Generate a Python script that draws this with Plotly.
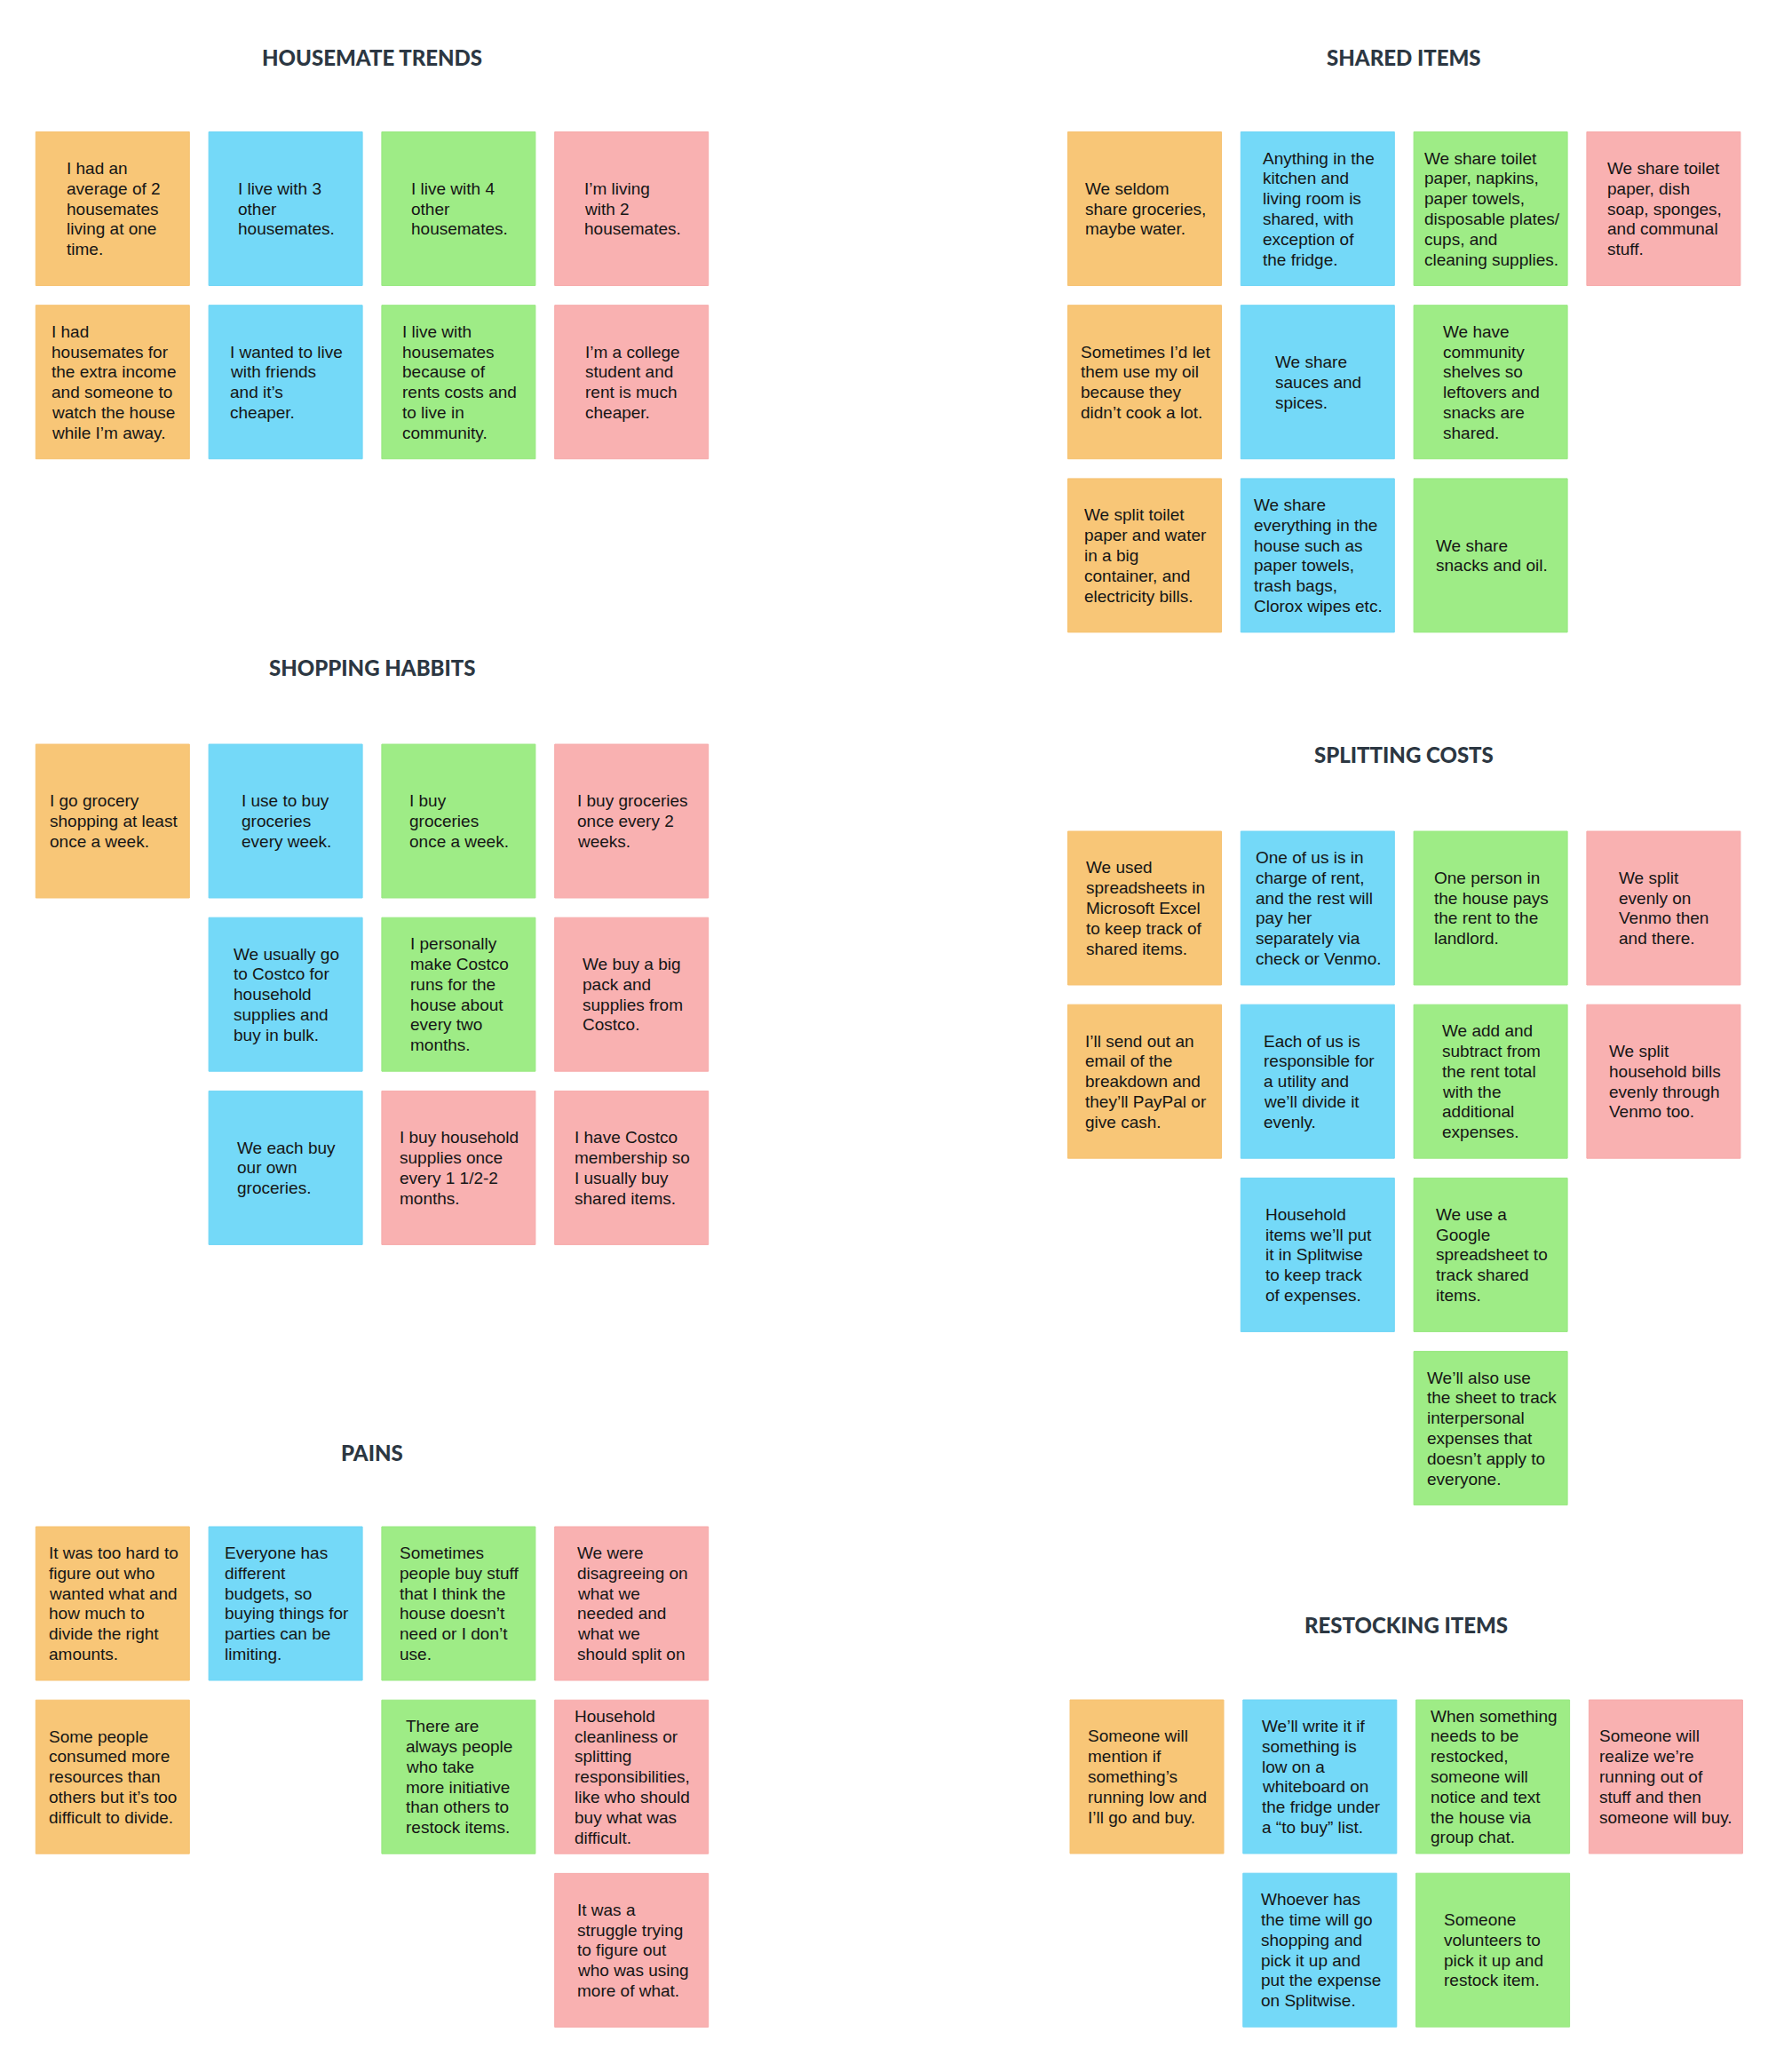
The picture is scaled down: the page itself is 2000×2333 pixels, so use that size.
import plotly.graph_objects as go

# ---------------- data ----------------
section_titles = ["HOUSEMATE TRENDS", "SHARED ITEMS", "SHOPPING HABBITS",
                  "SPLITTING COSTS", "PAINS", "RESTOCKING ITEMS"]

housemate_text = [
    "I had an<br>average of 2<br>housemates<br>living at one<br>time.",
    "I live with 3<br>other<br>housemates.",
    "I live with 4<br>other<br>housemates.",
    "I’m living<br>with 2<br>housemates.",
    "I had<br>housemates for<br>the extra income<br>and someone to<br>watch the house<br>while I’m away.",
    "I wanted to live<br>with friends<br>and it’s<br>cheaper.",
    "I live with<br>housemates<br>because of<br>rents costs and<br>to live in<br>community.",
    "I’m a college<br>student and<br>rent is much<br>cheaper.",
]
housemate_col = [0, 1, 2, 3, 0, 1, 2, 3]
housemate_row = [0, 0, 0, 0, 1, 1, 1, 1]
housemate_kind = ["o", "b", "g", "p", "o", "b", "g", "p"]

shared_text = [
    "We seldom<br>share groceries,<br>maybe water.",
    "Anything in the<br>kitchen and<br>living room is<br>shared, with<br>exception of<br>the fridge.",
    "We share toilet<br>paper, napkins,<br>paper towels,<br>disposable plates/<br>cups, and<br>cleaning supplies.",
    "We share toilet<br>paper, dish<br>soap, sponges,<br>and communal<br>stuff.",
    "Sometimes I’d let<br>them use my oil<br>because they<br>didn’t cook a lot.",
    "We share<br>sauces and<br>spices.",
    "We have<br>community<br>shelves so<br>leftovers and<br>snacks are<br>shared.",
    "We split toilet<br>paper and water<br>in a big<br>container, and<br>electricity bills.",
    "We share<br>everything in the<br>house such as<br>paper towels,<br>trash bags,<br>Clorox wipes etc.",
    "We share<br>snacks and oil.",
]
shared_col = [0, 1, 2, 3, 0, 1, 2, 0, 1, 2]
shared_row = [0, 0, 0, 0, 1, 1, 1, 2, 2, 2]
shared_kind = ["o", "b", "g", "p", "o", "b", "g", "o", "b", "g"]

shopping_text = [
    "I go grocery<br>shopping at least<br>once a week.",
    "I use to buy<br>groceries<br>every week.",
    "I buy<br>groceries<br>once a week.",
    "I buy groceries<br>once every 2<br>weeks.",
    "We usually go<br>to Costco for<br>household<br>supplies and<br>buy in bulk.",
    "I personally<br>make Costco<br>runs for the<br>house about<br>every two<br>months.",
    "We buy a big<br>pack and<br>supplies from<br>Costco.",
    "We each buy<br>our own<br>groceries.",
    "I buy household<br>supplies once<br>every 1 1/2-2<br>months.",
    "I have Costco<br>membership so<br>I usually buy<br>shared items.",
]
shopping_col = [0, 1, 2, 3, 1, 2, 3, 1, 2, 3]
shopping_row = [0, 0, 0, 0, 1, 1, 1, 2, 2, 2]
shopping_kind = ["o", "b", "g", "p", "b", "g", "p", "b", "p", "p"]

splitting_text = [
    "We used<br>spreadsheets in<br>Microsoft Excel<br>to keep track of<br>shared items.",
    "One of us is in<br>charge of rent,<br>and the rest will<br>pay her<br>separately via<br>check or Venmo.",
    "One person in<br>the house pays<br>the rent to the<br>landlord.",
    "We split<br>evenly on<br>Venmo then<br>and there.",
    "I’ll send out an<br>email of the<br>breakdown and<br>they’ll PayPal or<br>give cash.",
    "Each of us is<br>responsible for<br>a utility and<br>we’ll divide it<br>evenly.",
    "We add and<br>subtract from<br>the rent total<br>with the<br>additional<br>expenses.",
    "We split<br>household bills<br>evenly through<br>Venmo too.",
    "Household<br>items we’ll put<br>it in Splitwise<br>to keep track<br>of expenses.",
    "We use a<br>Google<br>spreadsheet to<br>track shared<br>items.",
    "We’ll also use<br>the sheet to track<br>interpersonal<br>expenses that<br>doesn’t apply to<br>everyone.",
]
splitting_col = [0, 1, 2, 3, 0, 1, 2, 3, 1, 2, 2]
splitting_row = [0, 0, 0, 0, 1, 1, 1, 1, 2, 2, 3]
splitting_kind = ["o", "b", "g", "p", "o", "b", "g", "p", "b", "g", "g"]

pains_text = [
    "It was too hard to<br>figure out who<br>wanted what and<br>how much to<br>divide the right<br>amounts.",
    "Everyone has<br>different<br>budgets, so<br>buying things for<br>parties can be<br>limiting.",
    "Sometimes<br>people buy stuff<br>that I think the<br>house doesn’t<br>need or I don’t<br>use.",
    "We were<br>disagreeing on<br>what we<br>needed and<br>what we<br>should split on",
    "Some people<br>consumed more<br>resources than<br>others but it’s too<br>difficult to divide.",
    "There are<br>always people<br>who take<br>more initiative<br>than others to<br>restock items.",
    "Household<br>cleanliness or<br>splitting<br>responsibilities,<br>like who should<br>buy what was<br>difficult.",
    "It was a<br>struggle trying<br>to figure out<br>who was using<br>more of what.",
]
pains_col = [0, 1, 2, 3, 0, 2, 3, 3]
pains_row = [0, 0, 0, 0, 1, 1, 1, 2]
pains_kind = ["o", "b", "g", "p", "o", "g", "p", "p"]

restocking_text = [
    "Someone will<br>mention if<br>something’s<br>running low and<br>I’ll go and buy.",
    "We’ll write it if<br>something is<br>low on a<br>whiteboard on<br>the fridge under<br>a “to buy” list.",
    "When something<br>needs to be<br>restocked,<br>someone will<br>notice and text<br>the house via<br>group chat.",
    "Someone will<br>realize we’re<br>running out of<br>stuff and then<br>someone will buy.",
    "Whoever has<br>the time will go<br>shopping and<br>pick it up and<br>put the expense<br>on Splitwise.",
    "Someone<br>volunteers to<br>pick it up and<br>restock item.",
]
restocking_col = [0, 1, 2, 3, 1, 2]
restocking_row = [0, 0, 0, 0, 1, 1]
restocking_kind = ["o", "b", "g", "p", "b", "g"]

# ---------------- layout / style ----------------
W, H = 2000, 2333
NOTE_W = 173
NOTE_H = 173
PITCH_X = 194.8
PITCH_Y = 195.2
FILL = {"o": "#F8C677", "b": "#74D9F8", "g": "#9EEC86", "p": "#F9B1B1"}
EDGE = {"o": "#F6C272", "b": "#6FD5F5", "g": "#98E880", "p": "#F6AAAA"}
TITLE_COLOR = "#2C3742"
TEXT_COLOR = "#151515"
FONT_SIZE = 19
LINE_H = 22.8
TEXT_FONT = "Liberation Sans, Arial, Helvetica, sans-serif"

# Arial / Helvetica advance widths (1/1000 em), used to left-align lines in a centred block
_AW = {" ": 278, "!": 278, '"': 355, "'": 191, "(": 333, ")": 333, ",": 278, "-": 333,
       ".": 278, "/": 278, ":": 278, ";": 278, "?": 556, "’": 222, "“": 333, "”": 333}
_AW.update({d: 556 for d in "0123456789"})
_AW.update(dict(zip("ABCDEFGHIJKLMNOPQRSTUVWXYZ",
                    [667, 667, 722, 722, 667, 611, 778, 722, 278, 500, 667, 556, 833,
                     722, 778, 667, 778, 722, 667, 611, 722, 667, 944, 667, 667, 611])))
_AW.update(dict(zip("abcdefghijklmnopqrstuvwxyz",
                    [556, 556, 500, 556, 556, 278, 556, 556, 222, 222, 500, 222, 833,
                     556, 556, 556, 556, 333, 500, 278, 556, 500, 722, 500, 500, 500])))


def text_width(s, size):
    return sum(_AW.get(ch, 556) for ch in s) * size / 1000.0


# section origin (left x, top y of first row) and title y
sections = [
    (section_titles[0], housemate_text, housemate_col, housemate_row, housemate_kind, 40.3, 148.5, 64),
    (section_titles[1], shared_text, shared_col, shared_row, shared_kind, 1202.5, 148.5, 64),
    (section_titles[2], shopping_text, shopping_col, shopping_row, shopping_kind, 40.3, 838, 751),
    (section_titles[3], splitting_text, splitting_col, splitting_row, splitting_kind, 1202.5, 936, 849),
    (section_titles[4], pains_text, pains_col, pains_row, pains_kind, 40.3, 1719, 1635),
    (section_titles[5], restocking_text, restocking_col, restocking_row, restocking_kind, 1205, 1914, 1829),
]

fig = go.Figure()
shapes = []
annotations = []

for title, texts, cols, rows, kinds, x0, y0, ty in sections:
    block_w = 3 * PITCH_X + NOTE_W
    annotations.append(dict(
        x=x0 + block_w / 2, y=ty, xref="x", yref="y", text=title, showarrow=False,
        xanchor="center", yanchor="middle",
        font=dict(family="Lato", size=24, color=TITLE_COLOR, weight=900),
    ))
    for t, c, r, k in zip(texts, cols, rows, kinds):
        nx = x0 + c * PITCH_X
        ny = y0 + r * PITCH_Y
        shapes.append(dict(
            type="rect", xref="x", yref="y", x0=nx, x1=nx + NOTE_W, y0=ny, y1=ny + NOTE_H,
            fillcolor=FILL[k], line=dict(color=EDGE[k], width=1), layer="below",
        ))
        lines = t.split("<br>")
        bw = max(text_width(l, FONT_SIZE) for l in lines)
        left = nx + NOTE_W / 2 - bw / 2
        cy = ny + NOTE_H / 2
        n = len(lines)
        for i, line in enumerate(lines):
            annotations.append(dict(
                x=left, y=cy + (i - (n - 1) / 2) * LINE_H, xref="x", yref="y",
                text=line, showarrow=False, xanchor="left", yanchor="middle",
                align="left", borderpad=0,
                font=dict(family=TEXT_FONT, size=FONT_SIZE, color=TEXT_COLOR),
            ))

fig.update_layout(
    width=W, height=H, margin=dict(l=0, r=0, t=0, b=0),
    paper_bgcolor="white", plot_bgcolor="white",
    xaxis=dict(range=[0, W], visible=False, fixedrange=True),
    yaxis=dict(range=[H, 0], visible=False, fixedrange=True),
    shapes=shapes, annotations=annotations, showlegend=False,
)

fig.write_html(
    "out.html",
    config={"displayModeBar": False},
    post_script="document.body.style.margin='0';document.body.style.overflow='hidden';",
)
